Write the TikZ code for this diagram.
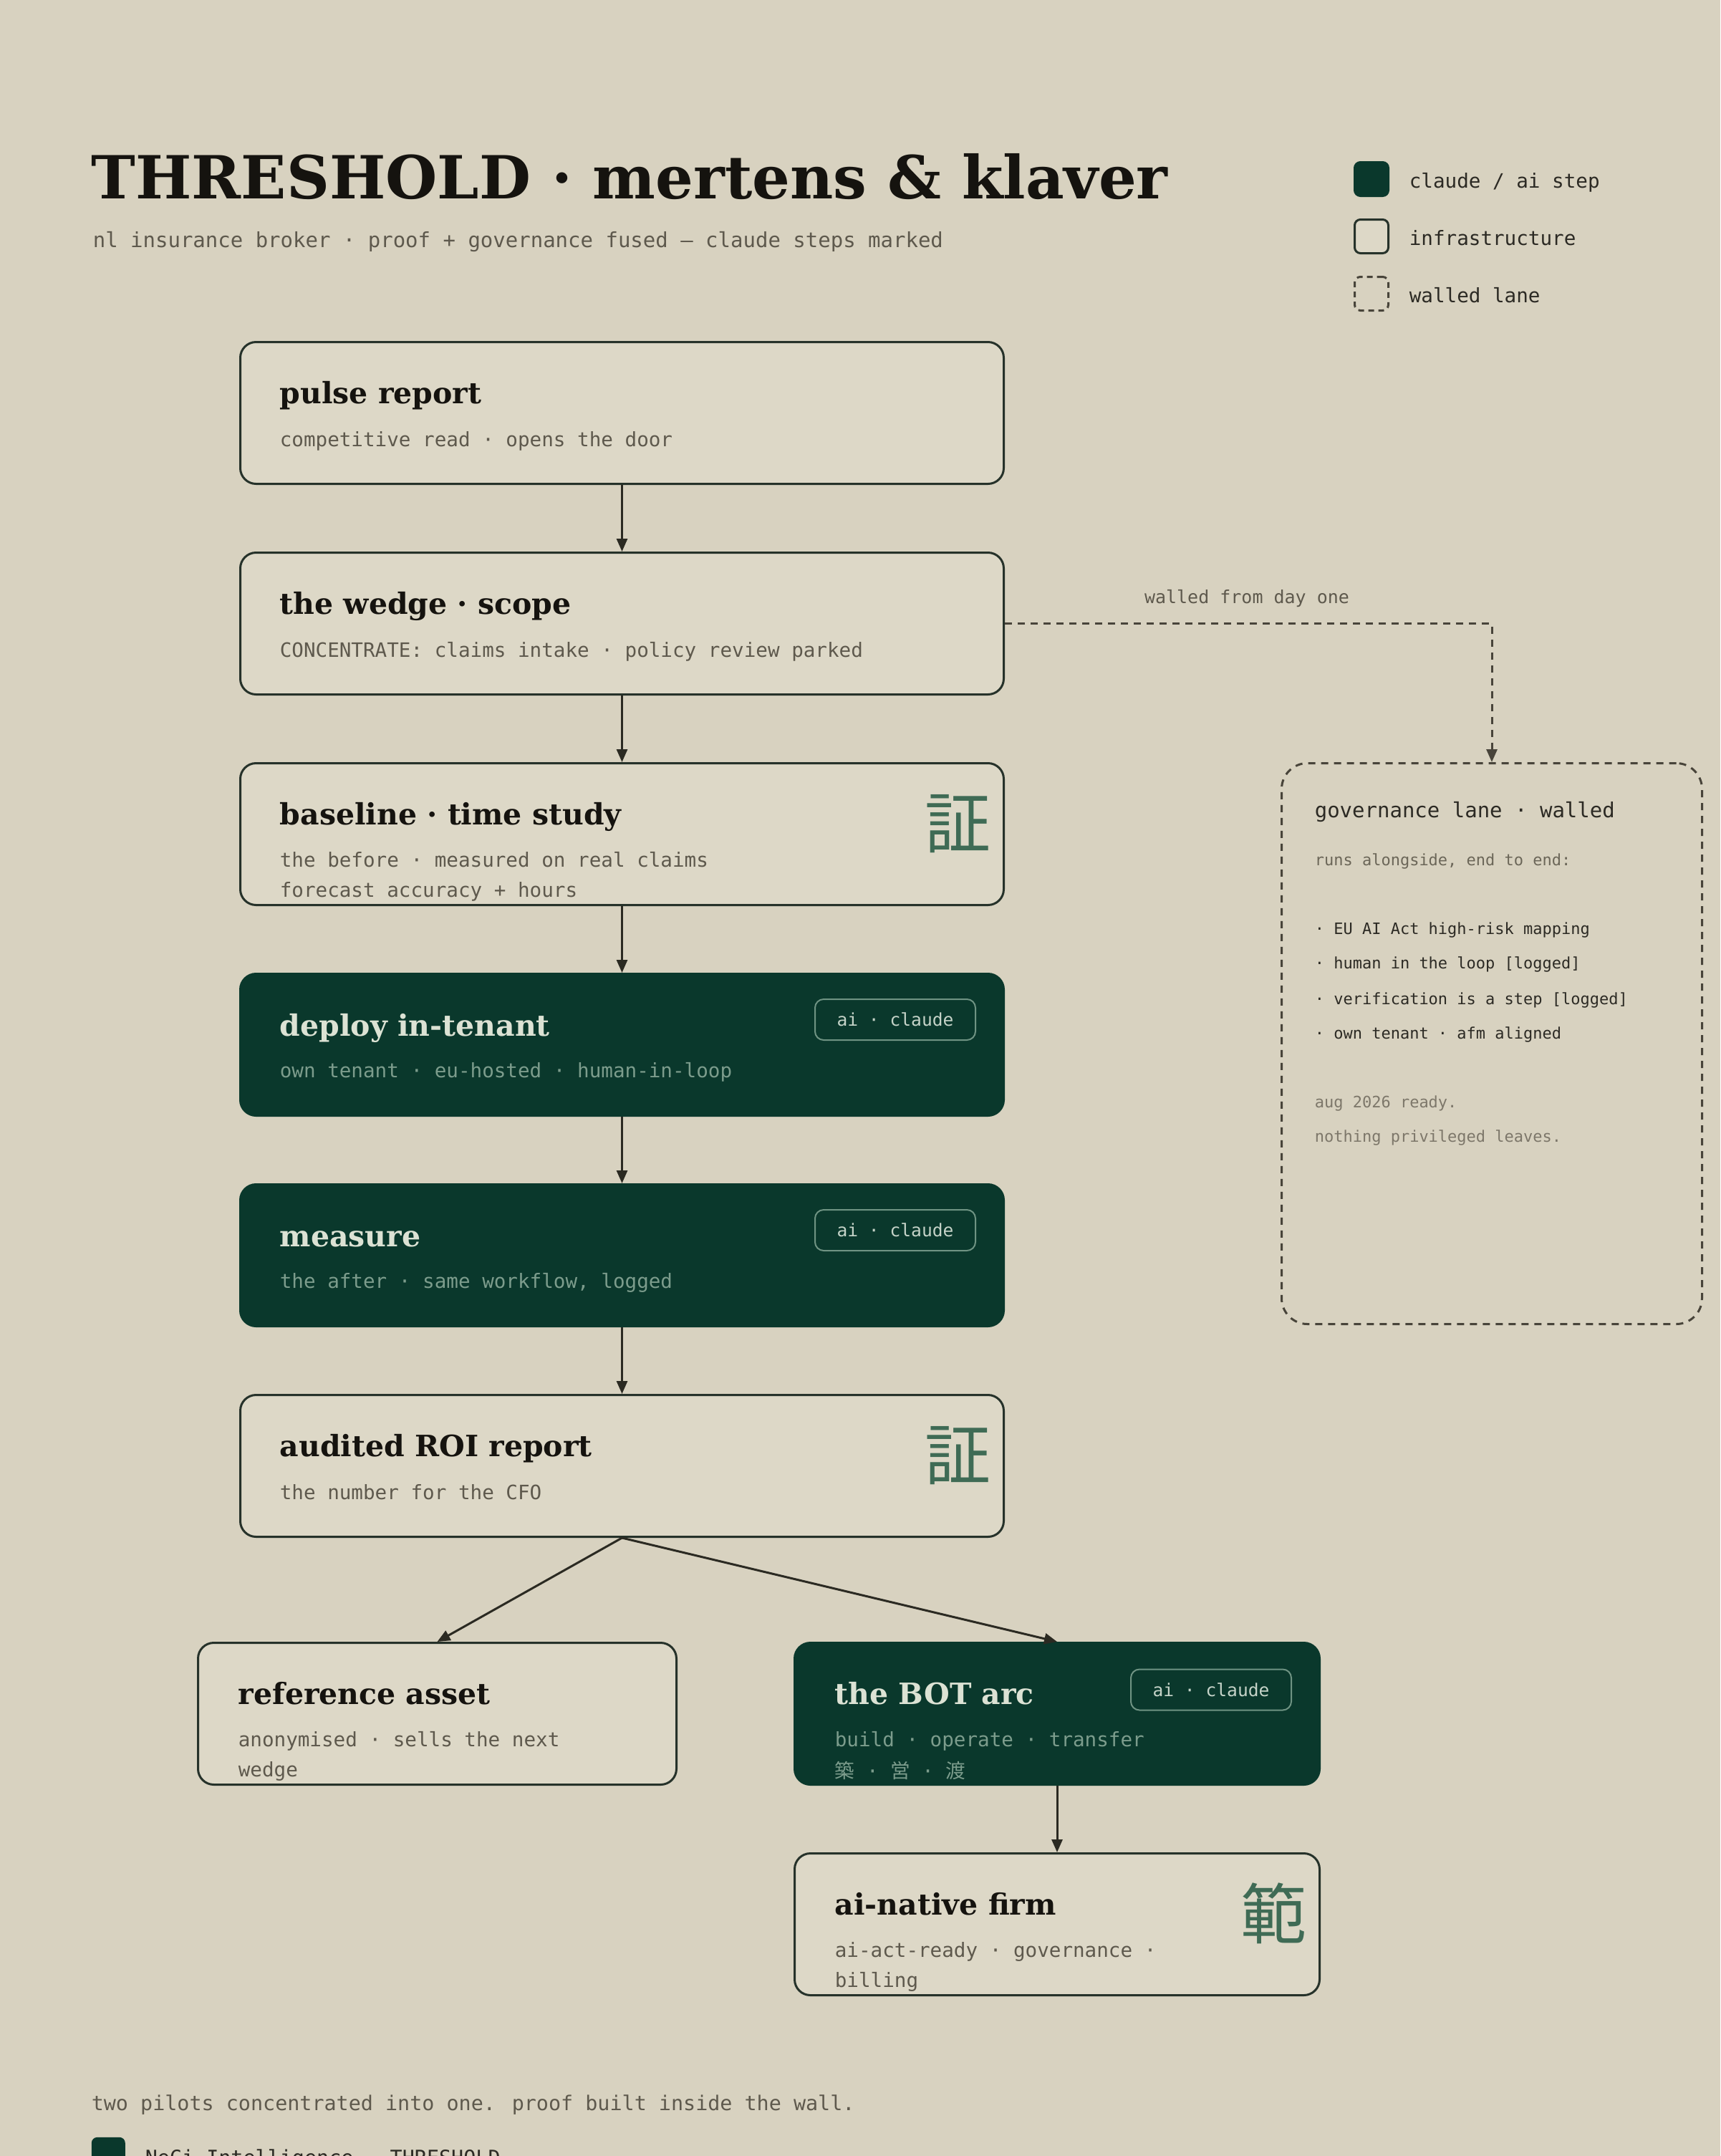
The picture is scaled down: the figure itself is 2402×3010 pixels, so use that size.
\documentclass[tikz,border=0pt]{standalone}
\usepackage{fontspec}
\setmainfont{DejaVu Serif}
\newfontfamily\monof{DejaVu Sans Mono}
\newfontfamily\cjkf{Noto Sans CJK JP}
\usetikzlibrary{arrows.meta,calc}
\definecolor{bg}{HTML}{D8D2C0}
\definecolor{boxfill}{HTML}{DDD8C7}
\definecolor{boxline}{HTML}{26322A}
\definecolor{dgreen}{HTML}{0A382C}
\definecolor{ink}{HTML}{15130F}
\definecolor{subink}{HTML}{5E594D}
\definecolor{dtitle}{HTML}{DCE2D4}
\definecolor{dsubc}{HTML}{7C9C8C}
\definecolor{pillline}{HTML}{6F9383}
\definecolor{pilltext}{HTML}{C5D3C8}
\definecolor{kanjic}{HTML}{3F6B55}
\definecolor{arrowc}{HTML}{2B2A22}
\definecolor{dashc}{HTML}{48443A}
\definecolor{govink}{HTML}{2C2A24}
\definecolor{govsoft}{HTML}{6B6658}
\definecolor{govfaint}{HTML}{7D776A}
\newcommand{\fsz}[1]{\fontsize{#1pt}{#1pt}\selectfont}
\begin{document}
\begin{tikzpicture}[x=0.25pt,y=-0.25pt,
  stepbox/.style={draw=boxline, fill=boxfill, line width=0.75pt, rounded corners=5.5pt,
    minimum width=266.5pt, minimum height=49.5pt, inner sep=0pt, anchor=north west},
  darkbox/.style={stepbox, draw=dgreen, fill=dgreen},
  ttl/.style={font=\bfseries\fsz{10.25}, text=ink, inner sep=0pt, anchor=base west},
  dttl/.style={ttl, text=dtitle},
  subt/.style={font=\monof\fsz{6.9}, text=subink, inner sep=0pt, anchor=base west},
  dsubt/.style={subt, text=dsubc},
  kj/.style={font=\cjkf\fsz{23}, text=kanjic, inner sep=0pt},
  pill/.style={draw=pillline, line width=0.5pt, rounded corners=3pt, minimum width=56pt,
    minimum height=14.25pt, inner sep=0pt, font=\monof\fsz{6.15}, text=pilltext},
  conn/.style={draw=arrowc, line width=0.75pt, -{Triangle[length=4.5pt,width=3.75pt]}},
  dconn/.style={draw=dashc, line width=0.75pt, dash pattern=on 2.5pt off 2pt,
    -{Triangle[length=4.5pt,width=3.75pt,fill=dashc]}},
  legsq/.style={minimum size=11.75pt, rounded corners=2pt, inner sep=0pt, line width=0.75pt},
  legtxt/.style={anchor=base west, font=\monof\fsz{6.9}, text=govink, inner sep=0pt},
  govhead/.style={anchor=base west, font=\monof\fsz{7.25}, text=govink, inner sep=0pt},
  govtxt/.style={anchor=base west, font=\monof\fsz{5.5}, text=govink, inner sep=0pt},
]
\useasboundingbox (0,0) rectangle (2402,3010);
\clip (0,0) rectangle (2402,3010);
\fill[bg] (0,0) rectangle (2402,3010);

% header
\node[anchor=base west, inner sep=0pt, font=\bfseries\fsz{20.75}, text=ink] (title) at (127,277)
  {THRESHOLD · mertens \& klaver};
\node[anchor=base west, inner sep=0pt, font=\monof\fsz{7.25}, text=subink] (subtitle) at (129,345)
  {nl insurance broker · proof + governance fused — claude steps marked};

% legend
\node[legsq, fill=dgreen, draw=dgreen] (legA) at (1915,250) {};
\node[legsq, fill=boxfill, draw=boxline] (legB) at (1915,330) {};
\node[legsq, draw=dashc, dash pattern=on 2pt off 1.5pt] (legC) at (1915,410) {};
\node[legtxt] (legAT) at (1967,262) {claude / ai step};
\node[legtxt] (legBT) at (1967,342) {infrastructure};
\node[legtxt] (legCT) at (1967,422) {walled lane};

% main column
\node[stepbox] (pulse) at (334,476) {};
\node[ttl] (pulseT) at ($(pulse.north west)+(56,87)$) {pulse report};
\node[subt] (pulseS) at ($(pulse.north west)+(56,147)$) {competitive read · opens the door};

\node[stepbox] (wedge) at (334,770) {};
\node[ttl] (wedgeT) at ($(wedge.north west)+(56,87)$) {the wedge · scope};
\node[subt] (wedgeS) at ($(wedge.north west)+(56,147)$) {CONCENTRATE: claims intake · policy review parked};

\node[stepbox] (base) at (334,1064) {};
\node[ttl] (baseT) at ($(base.north west)+(56,87)$) {baseline · time study};
\node[subt] (baseS) at ($(base.north west)+(56,146)$) {the before · measured on real claims};
\node[subt] (baseS2) at ($(base.north west)+(56,188)$) {forecast accuracy + hours};
\node[kj] (baseK) at ($(base.north east)+(-66,86)$) {証};

\node[darkbox] (deploy) at (334,1358) {};
\node[dttl] (deployT) at ($(deploy.north west)+(56,88)$) {deploy in-tenant};
\node[dsubt] (deployS) at ($(deploy.north west)+(56,146)$) {own tenant · eu-hosted · human-in-loop};
\node[pill] (deployP) at ($(deploy.north east)+(-153,65.5)$) {ai · claude};

\node[darkbox] (measure) at (334,1652) {};
\node[dttl] (measureT) at ($(measure.north west)+(56,88)$) {measure};
\node[dsubt] (measureS) at ($(measure.north west)+(56,146)$) {the after · same workflow, logged};
\node[pill] (measureP) at ($(measure.north east)+(-153,65.5)$) {ai · claude};

\node[stepbox] (roi) at (334,1946) {};
\node[ttl] (roiT) at ($(roi.north west)+(56,87)$) {audited ROI report};
\node[subt] (roiS) at ($(roi.north west)+(56,147)$) {the number for the CFO};
\node[kj] (roiK) at ($(roi.north east)+(-66,86)$) {証};

% lower row
\node[stepbox, minimum width=167pt] (ref) at (275,2292) {};
\node[ttl] (refT) at ($(ref.north west)+(57,87)$) {reference asset};
\node[subt] (refS) at ($(ref.north west)+(57,146)$) {anonymised · sells the next};
\node[subt] (refS2) at ($(ref.north west)+(57,188)$) {wedge};

\node[darkbox, minimum width=183.25pt] (bot) at (1108,2292) {};
\node[dttl] (botT) at ($(bot.north west)+(57,87)$) {the BOT arc};
\node[dsubt] (botS) at ($(bot.north west)+(57,146)$) {build · operate · transfer};
\node[dsubt] (botS2) at ($(bot.north west)+(57,190)$) {{\cjkf 築} · {\cjkf 営} · {\cjkf 渡}};
\node[pill] (botP) at ($(bot.north east)+(-153,67)$) {ai · claude};

\node[stepbox, minimum width=183.25pt] (firm) at (1108,2586) {};
\node[ttl] (firmT) at ($(firm.north west)+(57,87)$) {ai-native firm};
\node[subt] (firmS) at ($(firm.north west)+(57,146)$) {ai-act-ready · governance ·};
\node[subt] (firmS2) at ($(firm.north west)+(57,188)$) {billing};
\node[kj] (firmK) at ($(firm.north east)+(-66,85)$) {範};

% governance lane
\node[draw=dashc, line width=0.75pt, dash pattern=on 2.5pt off 2pt, rounded corners=9pt,
  minimum width=146.75pt, minimum height=195.75pt, inner sep=0pt, anchor=north west] (gov) at (1788,1064) {};
\node[govhead] (govH) at (1835,1141) {governance lane · walled};
\node[govtxt, text=govsoft] (govA) at (1835,1208) {runs alongside, end to end:};
\node[govtxt] (govB1) at (1835,1304) {· EU AI Act high-risk mapping};
\node[govtxt] (govB2) at (1835,1352) {· human in the loop [logged]};
\node[govtxt] (govB3) at (1835,1402) {· verification is a step [logged]};
\node[govtxt] (govB4) at (1835,1450) {· own tenant · afm aligned};
\node[govtxt, text=govfaint] (govC1) at (1835,1546) {aug 2026 ready.};
\node[govtxt, text=govfaint] (govC2) at (1835,1594) {nothing privileged leaves.};

% connectors
\draw[conn] (pulse.south) -- (wedge.north);
\draw[conn] (wedge.south) -- (base.north);
\draw[conn] (base.south) -- (deploy.north);
\draw[conn] (deploy.south) -- (measure.north);
\draw[conn] (measure.south) -- (roi.north);
\draw[conn] (roi.south) -- (ref.north);
\draw[conn] (roi.south) -- (bot.north);
\draw[conn] (bot.south) -- (firm.north);
\draw[dconn] (wedge.east) -| (gov.north);
\node[anchor=base, inner sep=0pt, font=\monof\fsz{6.25}, text=subink] (wallLbl) at (1741,842) {walled from day one};

% footer
\node[anchor=base west, inner sep=0pt, font=\monof\fsz{7.1}, text=subink] (foot1) at (127,2946)
  {two pilots concentrated into one. proof built inside the wall.};
\node[fill=dgreen, rounded corners=2pt, minimum size=11.75pt, inner sep=0pt, anchor=north west] (footSq) at (127,2983) {};
\node[anchor=base west, inner sep=0pt, font=\monof\fsz{7.1}, text=govink] (foot2) at (202,3022)
  {NeCi Intelligence · THRESHOLD};
\end{tikzpicture}
\end{document}
